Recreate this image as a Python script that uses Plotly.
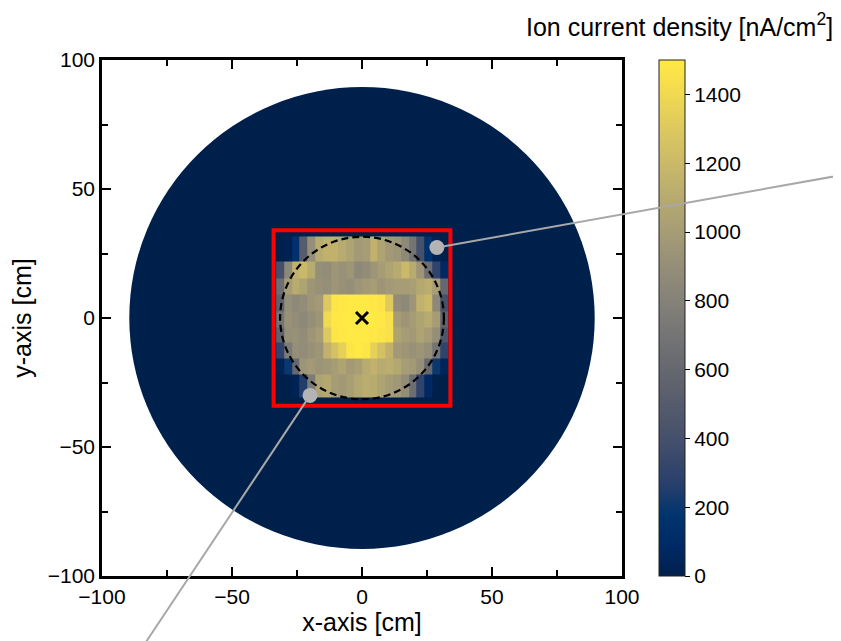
import plotly.graph_objects as go

# ---------------- data ----------------
# cell edges of the central measured region (cm)
X_EDGES = [-33, -30, -27, -24, -21, -18, -15, -12, -9, -6, -3, 0,
           3, 6, 9, 12, 15, 18, 21, 24, 27, 30, 33]
Y_EDGES = [-30.8, -21.8, -15.6, -9.6, -3.8, 2.6, 9.0, 15.4, 21.8, 31.6]

# ion current density [nA/cm^2], rows from bottom to top
ROW_1 = [0, 0, 30, 250, 750, 1050, 1080, 1000, 980, 1020, 1080, 1120, 1100, 1050, 1000, 960, 880, 650, 300, 80, 0, 0]
ROW_2 = [30, 200, 600, 950, 980, 940, 960, 1000, 1050, 980, 1020, 1100, 1150, 1100, 1120, 1080, 1000, 980, 900, 600, 200, 40]
ROW_3 = [300, 750, 900, 880, 920, 950, 1150, 1250, 1350, 1480, 1500, 1480, 1350, 1250, 1150, 980, 950, 920, 950, 900, 700, 300]
ROW_4 = [550, 900, 920, 880, 950, 1000, 1300, 1480, 1490, 1500, 1500, 1500, 1490, 1480, 1450, 1050, 1000, 980, 1050, 1000, 900, 450]
ROW_5 = [700, 920, 880, 850, 900, 950, 1400, 1490, 1500, 1500, 1500, 1500, 1500, 1490, 1450, 1000, 950, 1000, 1050, 1100, 1000, 550]
ROW_6 = [550, 900, 850, 880, 950, 980, 1300, 1480, 1490, 1500, 1500, 1500, 1490, 1480, 1300, 880, 850, 950, 1150, 1200, 850, 400]
ROW_7 = [650, 1000, 1100, 1050, 950, 920, 900, 950, 920, 900, 950, 980, 1000, 950, 980, 1000, 1000, 1020, 1080, 1120, 1000, 600]
ROW_8 = [400, 850, 1150, 1200, 1100, 900, 880, 950, 920, 950, 850, 880, 950, 1000, 1050, 1100, 1200, 1100, 950, 650, 300, 80]
ROW_9 = [0, 20, 150, 500, 900, 1100, 1150, 1150, 1100, 1050, 980, 1000, 1150, 1050, 980, 950, 850, 700, 400, 150, 30, 0]
ROWS = [ROW_1, ROW_2, ROW_3, ROW_4, ROW_5, ROW_6, ROW_7, ROW_8, ROW_9]

DISK_RADIUS = 89.5        # cm, measurement disk (value ~0)
INNER_RADIUS = 31.5       # cm, dashed circle
SQUARE_HALF = 34          # cm, red square
CENTER = [0, 0]

CALLOUT_X = [28.8, -20.0]
CALLOUT_Y = [27.3, -30.0]
CALLOUT_END_X = [190.0, -86.0]
CALLOUT_END_Y = [56.4, -130.0]

AX_TICKS = [-100, -50, 0, 50, 100]
CB_TICKS = [0, 200, 400, 600, 800, 1000, 1200, 1400]
ZMIN, ZMAX = 0, 1500

FONT = "Liberation Sans, Arial, sans-serif"
CIVIDIS = [[0.0, 'rgb(0,32,76)'], [0.0588, 'rgb(0,42,102)'], [0.1176, 'rgb(0,52,110)'],
           [0.1765, 'rgb(39,63,108)'], [0.2353, 'rgb(60,74,107)'], [0.2941, 'rgb(76,85,107)'],
           [0.3529, 'rgb(91,95,109)'], [0.4118, 'rgb(104,106,112)'], [0.4706, 'rgb(117,117,117)'],
           [0.5294, 'rgb(131,129,120)'], [0.5882, 'rgb(146,140,120)'], [0.6471, 'rgb(161,152,118)'],
           [0.7059, 'rgb(176,165,114)'], [0.7647, 'rgb(192,177,109)'], [0.8235, 'rgb(209,191,102)'],
           [0.8824, 'rgb(225,204,92)'], [0.9412, 'rgb(243,219,79)'], [1.0, 'rgb(255,233,69)']]

fig = go.Figure()

fig.add_trace(go.Heatmap(
    x=X_EDGES, y=Y_EDGES, z=ROWS, zmin=ZMIN, zmax=ZMAX,
    colorscale=CIVIDIS, zsmooth=False, hoverinfo="skip",
    colorbar=dict(
        x=1.071, xanchor="left", xpad=0, y=0, yanchor="bottom", ypad=0,
        len=1.0, lenmode="fraction", thickness=26,
        outlinewidth=1, outlinecolor="#222222",
        tickmode="array", tickvals=CB_TICKS, ticks="outside", ticklen=5,
        tickwidth=1, tickcolor="black",
        tickfont=dict(family=FONT, size=21, color="black"),
    ),
))

# callout dots
fig.add_trace(go.Scatter(
    x=CALLOUT_X, y=CALLOUT_Y, mode="markers",
    marker=dict(size=15, color="#b4b4b4"), hoverinfo="skip", showlegend=False,
))
# center cross
fig.add_trace(go.Scatter(
    x=[CENTER[0]], y=[CENTER[1]], mode="markers",
    marker=dict(symbol="x-thin", size=12, line=dict(width=3, color="black")),
    hoverinfo="skip", showlegend=False,
))

shapes = [
    dict(type="circle", xref="x", yref="y", layer="below",
         x0=-DISK_RADIUS, x1=DISK_RADIUS, y0=-DISK_RADIUS, y1=DISK_RADIUS,
         fillcolor=CIVIDIS[0][1], line=dict(width=0)),
    dict(type="circle", xref="x", yref="y", layer="above",
         x0=-INNER_RADIUS, x1=INNER_RADIUS, y0=-INNER_RADIUS, y1=INNER_RADIUS,
         line=dict(color="black", width=2.2, dash="7px,4px")),
    dict(type="rect", xref="x", yref="y", layer="above",
         x0=-SQUARE_HALF, x1=SQUARE_HALF, y0=-SQUARE_HALF, y1=SQUARE_HALF,
         line=dict(color="#ff0000", width=4)),
]

annotations = []
for hx, hy, tx, ty in zip(CALLOUT_X, CALLOUT_Y, CALLOUT_END_X, CALLOUT_END_Y):
    annotations.append(dict(
        x=hx, y=hy, xref="x", yref="y", ax=tx, ay=ty, axref="x", ayref="y",
        text="", showarrow=True, arrowhead=0, arrowwidth=2, arrowcolor="#a8a8a8",
        standoff=6,
    ))
annotations.append(dict(
    text="Ion current density [nA/cm<sup>2</sup>]", xref="paper", yref="paper",
    x=1.41, y=1.067, xanchor="right", yanchor="middle", showarrow=False,
    font=dict(family=FONT, size=25, color="black"),
))

axis_common = dict(
    range=[-100, 100], tickmode="array", tickvals=AX_TICKS,
    ticks="inside", ticklen=9, tickwidth=2, tickcolor="black",
    showline=True, linecolor="black", linewidth=2.5, mirror="allticks",
    showgrid=False, zeroline=False,
    tickfont=dict(family=FONT, size=21, color="black"),
    minor=dict(tickmode="linear", tick0=-100, dtick=25, ticks="inside",
               ticklen=6.5, tickwidth=2, tickcolor="black", showgrid=False),
)

# page body adds an 8 px offset, so the figure is 8 px smaller than the window
fig.update_layout(
    width=833, height=633,
    margin=dict(l=94, r=219, t=52, b=61),
    paper_bgcolor="white", plot_bgcolor="white",
    font=dict(family=FONT, color="black"),
    xaxis=dict(axis_common, title=dict(text="x-axis [cm]", font=dict(size=25), standoff=4)),
    yaxis=dict(axis_common, title=dict(text="y-axis [cm]", font=dict(size=25), standoff=10)),
    shapes=shapes, annotations=annotations, showlegend=False,
)

fig.write_html("out.html")
